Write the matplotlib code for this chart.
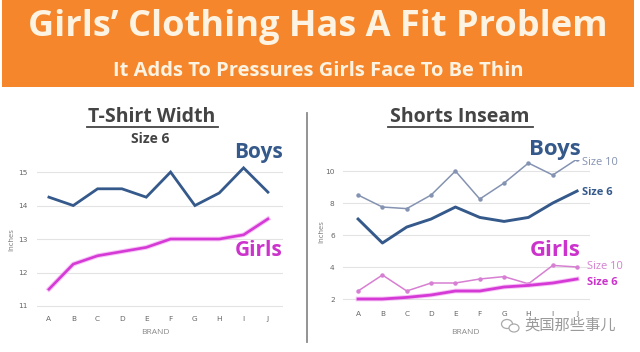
import matplotlib
matplotlib.use("Agg")
import matplotlib.pyplot as plt
from matplotlib.patches import Rectangle, Ellipse
from matplotlib.lines import Line2D

# ---- data ----
brands = ["A", "B", "C", "D", "E", "F", "G", "H", "I", "J"]
tshirt_boys = [14.25, 14.0, 14.5, 14.5, 14.25, 15.0, 14.0, 14.375, 15.125, 14.4]
tshirt_girls = [11.5, 12.25, 12.5, 12.625, 12.75, 13.0, 13.0, 13.0, 13.125, 13.6]
tshirt_yticks = [11, 12, 13, 14, 15]

shorts_boys_10 = [8.5, 7.75, 7.65, 8.5, 10.0, 8.25, 9.25, 10.5, 9.75, 10.75]
shorts_boys_6 = [7.0, 5.5, 6.5, 7.0, 7.75, 7.1, 6.85, 7.1, 8.0, 8.75]
shorts_girls_10 = [2.5, 3.5, 2.5, 3.0, 3.0, 3.25, 3.4, 2.95, 4.1, 4.0]
shorts_girls_6 = [2.0, 2.0, 2.1, 2.25, 2.5, 2.5, 2.75, 2.85, 3.0, 3.25]
shorts_yticks = [2, 4, 6, 8, 10]

W, H = 640, 352
fig = plt.figure(figsize=(W / 100, H / 100), dpi=100)
fig.patch.set_facecolor("white")

def fx(x):
    return x / W

def fy(y):
    return 1 - y / H

FONT = "Open Sans"
BLUE = "#34598a"
BLUE_LIGHT = "#8593b2"
MAG = "#d63ad6"
MAG_LIGHT = "#d77fd2"
DARK = "#444444"

# header band
fig.patches.append(Rectangle((fx(2), fy(87)), fx(632), 87 / H, transform=fig.transFigure,
                             facecolor="#f5862b", edgecolor="none", zorder=0))
fig.text(fx(318), fy(36), "Girls\u2019 Clothing Has A Fit Problem", ha="center", va="baseline",
         fontsize=26, fontweight="bold", family=FONT, color="#fdf3e2")
fig.text(fx(318), fy(76), "It Adds To Pressures Girls Face To Be Thin", ha="center", va="baseline",
         fontsize=14.5, fontweight="bold", family=FONT, color="#fdf3e2")

def make_axes(left, right, top, bottom, xlim, ylim, yticks, ypad):
    ax = fig.add_axes([fx(left), fy(bottom), fx(right - left), (bottom - top) / H])
    ax.set_xlim(*xlim)
    ax.set_ylim(*ylim)
    for s in ax.spines.values():
        s.set_visible(False)
    ax.set_yticks(yticks)
    ax.set_xticks(range(len(brands)))
    ax.set_xticklabels(brands)
    ax.tick_params(length=0, labelsize=5.3, labelcolor="#666666")
    ax.tick_params(axis="y", pad=ypad)
    ax.tick_params(axis="x", pad=4)
    ax.grid(axis="y", color="#e3e3e3", linewidth=0.8)
    ax.set_axisbelow(True)
    ax.patch.set_alpha(0)
    return ax

# ---- left panel ----
ax1 = make_axes(37, 283, 160, 310, (-0.49, 9.62), (10.88, 15.36), tshirt_yticks, 7)
x = range(len(brands))
ax1.plot(x, tshirt_boys, color=BLUE, lw=2.0, solid_joinstyle="miter")
ax1.plot(x, tshirt_girls, color="#f0a0f0", lw=3.4, alpha=0.6)
ax1.plot(x, tshirt_girls, color=MAG, lw=1.9)

fig.text(fx(12), fy(240), "Inches", rotation=90, ha="center", va="center", fontsize=5.5,
         color="#777777", family=FONT)
fig.text(fx(155), fy(332), "BRAND", ha="center", va="center", fontsize=6, color="#888888", family=FONT)
fig.text(fx(152), fy(122), "T-Shirt Width", ha="center", va="baseline", fontsize=14,
         fontweight="bold", family=FONT, color=DARK)
fig.lines.append(Line2D([fx(87), fx(218)], [fy(126.5), fy(126.5)], transform=fig.transFigure,
                        color=DARK, lw=1.3))
fig.text(fx(150), fy(143), "Size 6", ha="center", va="baseline", fontsize=10,
         fontweight="bold", family=FONT, color=DARK)
fig.text(fx(259), fy(158), "Boys", ha="center", va="baseline", fontsize=15,
         fontweight="bold", family=FONT, color=BLUE)
fig.text(fx(259), fy(256), "Girls", ha="center", va="baseline", fontsize=15,
         fontweight="bold", family=FONT, color="#cc33cc")

# divider
fig.lines.append(Line2D([fx(307), fx(307)], [fy(113), fy(342)], transform=fig.transFigure,
                        color="#8a8a8a", lw=1.3))

# ---- right panel ----
ax2 = make_axes(343, 590, 160, 305, (-0.62, 9.53), (1.625, 10.69), shorts_yticks, 6)
ax2.plot(x, shorts_boys_10, color=BLUE_LIGHT, lw=1.1, marker="o", markersize=2.2)
ax2.plot(x, shorts_boys_6, color=BLUE, lw=2.1)
ax2.plot(x, shorts_girls_10, color=MAG_LIGHT, lw=1.1, marker="o", markersize=2.2)
ax2.plot(x, shorts_girls_6, color="#f0a0f0", lw=3.4, alpha=0.6)
ax2.plot(x, shorts_girls_6, color=MAG, lw=2.0)

fig.text(fx(322), fy(232), "Inches", rotation=90, ha="center", va="center", fontsize=5.5,
         color="#777777", family=FONT)
fig.text(fx(465), fy(332), "BRAND", ha="center", va="center", fontsize=6, color="#888888", family=FONT)
fig.text(fx(460), fy(122), "Shorts Inseam", ha="center", va="baseline", fontsize=14,
         fontweight="bold", family=FONT, color=DARK)
fig.lines.append(Line2D([fx(388), fx(533)], [fy(127), fy(127)], transform=fig.transFigure,
                        color=DARK, lw=1.3))
fig.text(fx(555), fy(155), "Boys", ha="center", va="baseline", fontsize=16,
         fontweight="bold", family=FONT, color=BLUE)
fig.text(fx(582), fy(165), "Size 10", ha="left", va="baseline", fontsize=8,
         family=FONT, color=BLUE_LIGHT)
fig.text(fx(582), fy(195), "Size 6", ha="left", va="baseline", fontsize=8,
         fontweight="bold", family=FONT, color=BLUE)
fig.text(fx(555), fy(256), "Girls", ha="center", va="baseline", fontsize=16,
         fontweight="bold", family=FONT, color="#cc33cc")
fig.text(fx(587), fy(269), "Size 10", ha="left", va="baseline", fontsize=8,
         family=FONT, color=MAG_LIGHT)
fig.text(fx(587), fy(285), "Size 6", ha="left", va="baseline", fontsize=8,
         fontweight="bold", family=FONT, color="#cc33cc")

# watermark
fig.patches.append(Ellipse((fx(507), fy(324)), 11 / W, 9 / H, transform=fig.transFigure,
                           facecolor="white", edgecolor="#aaaaaa", lw=0.9, zorder=5))
fig.patches.append(Ellipse((fx(514), fy(328)), 10 / W, 8 / H, transform=fig.transFigure,
                           facecolor="white", edgecolor="#aaaaaa", lw=0.9, zorder=5))
fig.text(fx(570), fy(325), "英国那些事儿", ha="center", va="center", fontsize=11,
         family=["Noto Sans CJK SC", "DejaVu Sans"], color="#9a9a9a", zorder=6)

fig.savefig("out.png", dpi=100, facecolor="white")
